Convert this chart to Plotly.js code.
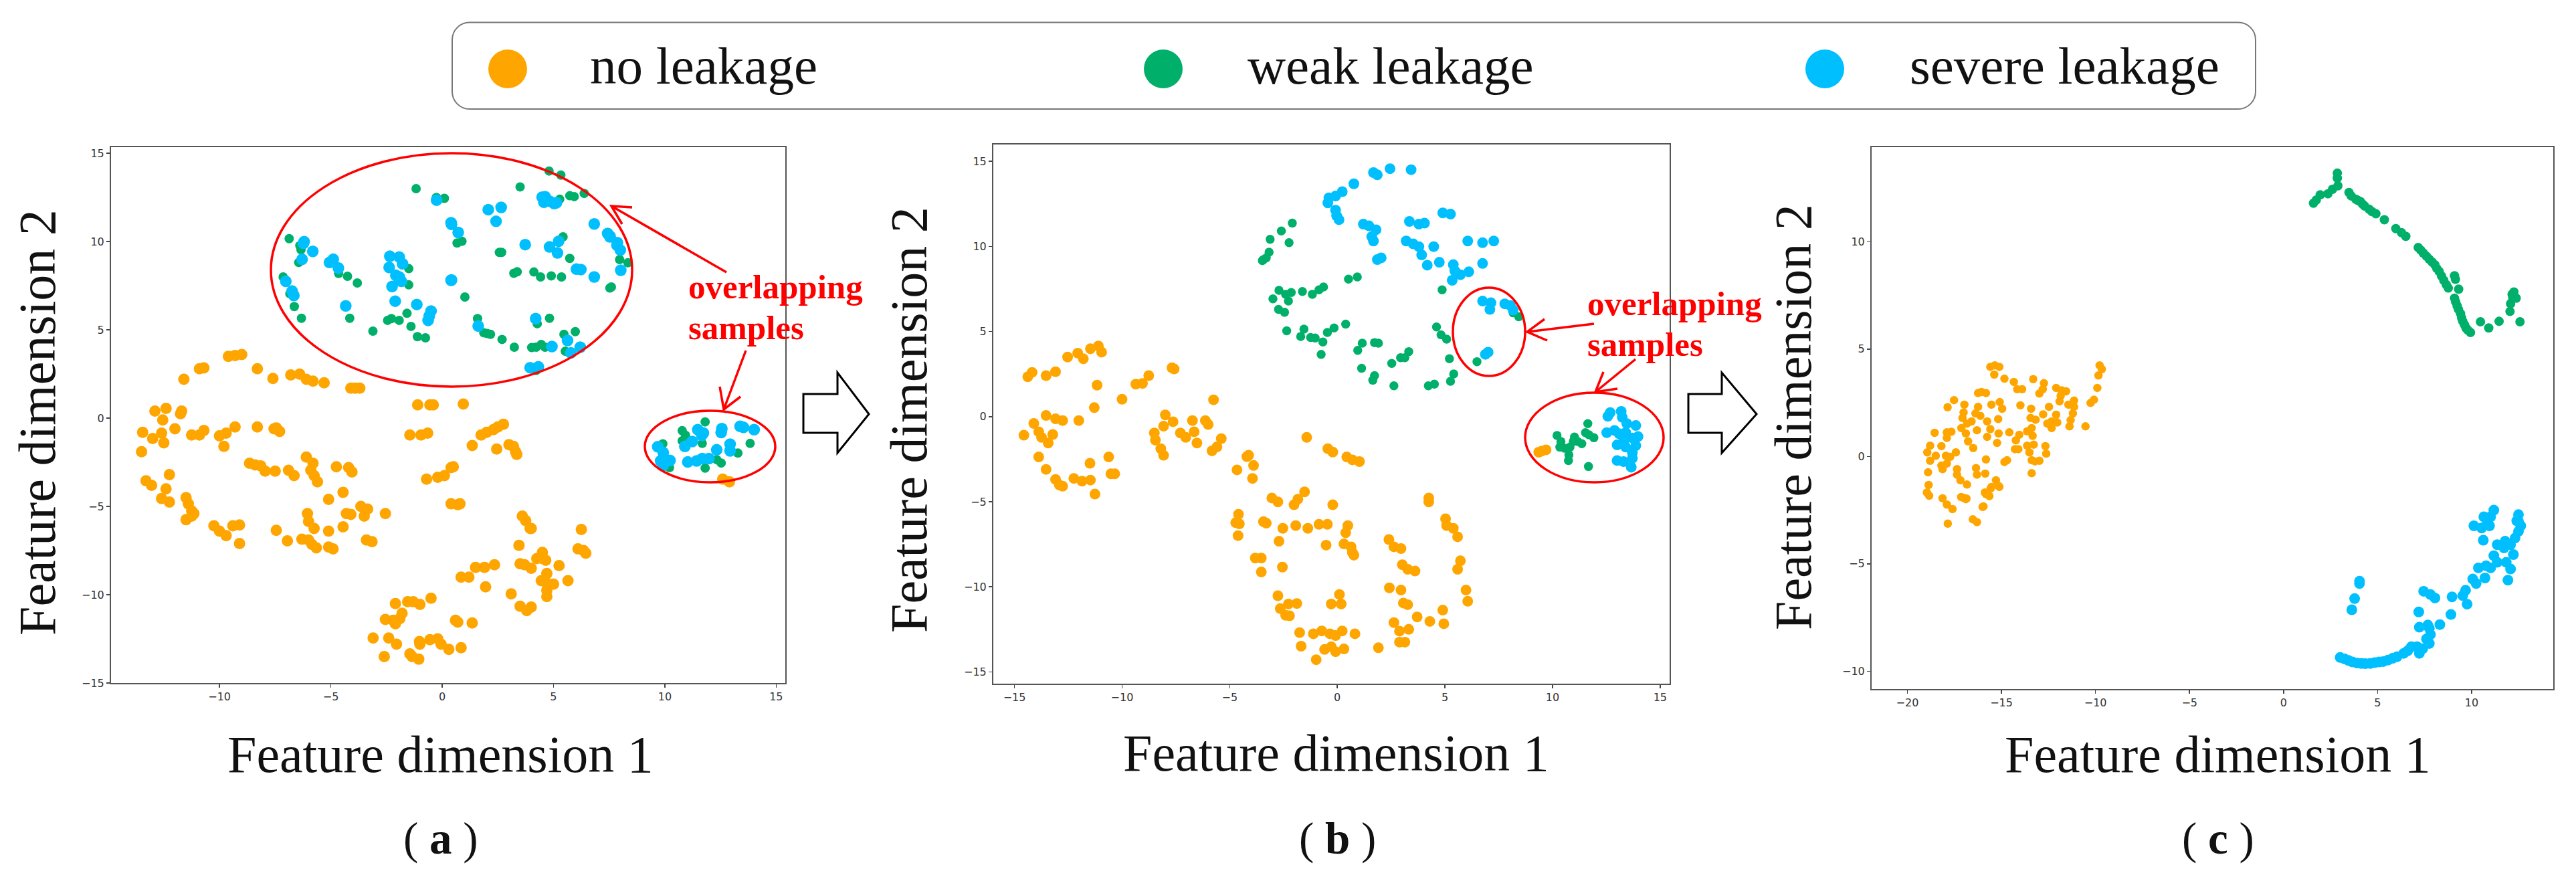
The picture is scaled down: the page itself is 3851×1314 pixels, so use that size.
<!DOCTYPE html>
<html>
<head>
<meta charset="utf-8">
<script src="https://cdn.plot.ly/plotly-3.0.1.min.js"></script>
<style>html,body{margin:0;padding:0;background:#fff}</style>
</head>
<body>
<div id="chart" style="width:3851px;height:1314px"></div>
<script>
// ---------- DATA: each point is [feature dimension 1, feature dimension 2] ----------
const legendLabels = ["no leakage", "weak leakage", "severe leakage"];
const panelLabels = ["a", "b", "c"];
const xTitle = "Feature dimension 1";
const yTitle = "Feature dimension 2";
const noteLines = ["overlapping", "samples"];

const aTicksX = [-10,-5,0,5,10,15];
const aTicksY = [-15,-10,-5,0,5,10,15];
const bTicksX = [-15,-10,-5,0,5,10,15];
const bTicksY = [-15,-10,-5,0,5,10,15];
const cTicksX = [-20,-15,-10,-5,0,5,10];
const cTicksY = [-10,-5,0,5,10];

const aNo = [[-11.6,2.2],[-10.9,2.8],[-10.7,2.85],[-9.6,3.5],[-9.3,3.55],[-9.0,3.6],[-8.3,2.8],[-7.6,2.25],[-6.8,2.45],[-6.4,2.5],[-6.1,2.2],[-5.8,2.1],[-5.3,2.0],[-4.1,1.7],[-3.9,1.7],[-3.7,1.7],
[-12.9,0.4],[-12.4,0.55],[-12.55,-0.1],[-11.7,0.4],[-11.75,0.25],[-13.45,-0.8],[-13.5,-1.9],[-13.0,-1.15],[-12.6,-0.85],[-12.5,-1.4],[-12.0,-0.6],[-11.25,-0.95],[-10.9,-0.95],[-10.7,-0.7],[-10,-1],[-9.7,-0.85],[-9.8,-1.6],[-9.3,-0.5],[-8.3,-0.5],[-7.55,-0.6],[-7.45,-0.55],[-7.3,-0.75],
[-8.65,-2.55],[-8.4,-2.65],[-8.15,-2.7],[-7.95,-3],[-7.5,-3],[-6.9,-2.95],[-6.65,-3.25],[-6.1,-2.2],[-5.8,-2.55],[-5.9,-2.95],[-5.75,-3.25],[-5.6,-3.6],[-4.75,-2.75],[-4.2,-2.8],[-4.05,-3.05],
[-13.3,-3.55],[-13.05,-3.8],[-12.25,-3.2],[-12.4,-4],[-12.6,-4.55],[-12.25,-4.75],[-11.5,-4.5],[-11.4,-4.85],[-11.25,-5.25],[-11.15,-5.4],[-11.5,-5.75],[-11.25,-5.55],
[-10.25,-6.1],[-10,-6.4],[-9.7,-6.65],[-9.4,-6.1],[-9.1,-6.05],[-9.1,-7.1],[-7.45,-6.35],[-6.95,-6.95],[-6.3,-6.85],[-6,-6.9],[-5.85,-7.15],[-5.65,-7.35],[-5.1,-7.3],[-4.9,-7.4],[-6.05,-5.4],[-6,-5.85],[-5.75,-6.25],[-5.1,-4.6],[-4.45,-4.2],[-5.1,-6.4],[-4.45,-6.15],[-4.3,-5.4],[-4.1,-5.45],[-3.65,-5],[-3.35,-5.15],[-3.5,-5.55],[-2.55,-5.4],[-3.4,-6.9],[-3.15,-7],
[-1.1,0.75],[-0.55,0.75],[-0.4,0.75],[0.95,0.8],[-1.45,-0.95],[-0.95,-0.95],[-0.65,-0.85],[1.75,-0.95],[2,-0.8],[2.3,-0.65],[2.5,-0.5],[2.75,-0.35],[1.35,-1.55],[2.45,-1.75],[3,-1.5],[3.2,-1.6],[3.3,-1.9],[3.35,-2.05],[-0.7,-3.45],[-0.2,-3.35],[0.1,-3.25],[0.4,-2.8],[0.5,-2.75],[0.4,-4.85],[0.7,-4.9],[0.8,-4.85],
[3.6,-5.55],[3.75,-5.8],[3.95,-6.25],[4,-6.25],[6.25,-6.3],[3.45,-7.2],[6.1,-7.4],[6.35,-7.5],[6.45,-7.65],[4.5,-7.6],[4.25,-7.95],[4.5,-7.95],[4.65,-8.05],[3.5,-8.25],[3.7,-8.3],[4,-8.5],[5.25,-8.35],[4.7,-8.8],[5.65,-9.2],[4.45,-9.2],[4.7,-9.35],[5,-9.4],[4.7,-9.75],[4.7,-10.1],[3.1,-9.95],[1.5,-8.45],[1.9,-8.45],[2.35,-8.3],[0.85,-9],[1.2,-9],[1.95,-9.55],[3.5,-10.65],[3.8,-10.9],[4,-10.7],
[-2.1,-10.5],[-1.55,-10.4],[-1.3,-10.4],[-1,-10.55],[-0.5,-10.2],[-2.55,-11.4],[-2.2,-11.45],[-1.9,-11.35],[-1.8,-11.05],[-2.1,-11.65],[0.6,-11.45],[0.7,-11.55],[1.35,-11.6],[-3.1,-12.45],[-2.4,-12.45],[-2.05,-12.8],[-0.55,-12.55],[-0.2,-12.5],[-0.05,-12.8],[-1,-12.8],[-1.02,-12.65],[0.3,-13.1],[0.85,-13],[-2.6,-13.5],[-1.45,-13.35],[-1.35,-13.5],[-1.05,-13.65],[12.6,-3.45],[12.9,-3.6]];

const aWeak = [[-1.17,13.0],[-0.26,12.5],[0.1,12.45],[3.5,13.1],[4.8,14.0],[5.33,13.77],[5.28,12.4],[5.73,12.6],[5.93,12.55],[6.38,12.73],[-6.87,10.17],[-6.39,9.77],[-6.34,9.54],[-6.44,8.82],[-4.65,8.2],[-4.25,8.04],[-3.81,7.66],[-7.14,8.0],[-6.84,7.05],[-6.64,6.32],[-6.32,5.66],[-4.15,5.66],[-3.11,4.93],[-2.45,5.54],[-2.28,5.64],[-1.93,5.54],[-1.58,5.94],[-1.4,5.2],[-1.11,4.62],[-0.75,4.55],[-1.5,8.47],[-1.5,7.55],[0.67,9.92],[0.89,10.02],[2.57,9.39],[2.67,9.39],[3.22,8.21],[3.37,8.29],[4.12,8.28],[4.42,8.0],[4.9,8.06],[5.36,8.0],[5.43,10.27],[5.73,9.05],[7.53,7.37],[7.6,7.43],[1.02,6.86],[1.59,5.64],[1.87,4.84],[2.02,4.8],[2.17,4.75],[2.69,4.46],[3.24,4.02],[4.02,4.0],[4.22,4.02],[4.45,4.17],[4.62,4.02],[4.27,5.35],[4.82,5.66],[5.47,4.75],[5.98,4.9],[5.53,3.79],[4.22,2.7],[7.97,8.98],[8.34,8.8],
[11.81,-0.21],[10.78,-0.71],[10.93,-0.97],[10.78,-1.28],[11.68,-1.43],[13.83,-1.43],[13.28,-1.98],[9.91,-1.45],[10.21,-2.8],[12.33,-2.35],[12.53,-2.54],[11.81,-2.83]];

const aSevere = [[-0.25,12.35],[2.07,11.81],[2.65,11.94],[2.42,11.15],[4.49,12.52],[4.62,12.55],[4.57,12.23],[4.82,12.29],[5.03,12.16],[5.13,12.2],[0.4,11.07],[0.42,10.98],[0.72,10.52],[-6.2,10.0],[-6.23,9.9],[-5.81,9.45],[-6.29,9.0],[-4.89,9.0],[-5.06,8.82],[-4.66,8.5],[-2.35,9.17],[-1.93,9.13],[-1.78,8.75],[-2.38,8.54],[-2.08,8.09],[-1.93,8.0],[-1.83,7.75],[-1.93,7.87],[-2.25,7.46],[-2.11,6.63],[-1.14,6.44],[-0.5,6.07],[-0.58,5.79],[-0.63,5.54],[0.4,7.81],[0.42,7.83],[-4.33,6.36],[-7.02,7.75],[-6.74,7.2],[-6.66,6.95],[3.73,9.83],[4.82,9.7],[5.23,10.02],[5.18,9.36],[6.03,8.44],[6.23,8.42],[6.83,11.0],[7.43,10.46],[7.53,10.27],[6.83,8.0],[1.62,5.22],[4.2,5.64],[4.93,4.06],[5.63,4.4],[6.2,4.02],[5.78,3.7],[3.95,2.86],[4.32,2.91],[7.87,9.94],[8.0,9.52],[7.85,9.8],[8.02,8.38],[7.54,10.3],
[11.48,-0.65],[11.73,-0.84],[11.66,-0.97],[12.56,-0.59],[12.53,-0.81],[13.38,-0.46],[13.53,-0.52],[14.01,-0.65],[11.23,-1.32],[10.9,-1.6],[9.68,-1.62],[9.93,-1.95],[9.81,-2.42],[10.23,-2.39],[9.93,-2.67],[12.33,-1.79],[12.93,-1.47],[12.93,-1.85],[11.03,-2.48],[11.43,-2.42],[11.68,-2.29],[11.98,-2.29]];

const bNo = [[-14.38,2.34],[-14.18,2.6],[-13.53,2.41],[-13.09,2.64],[-12.53,3.5],[-12.06,3.73],[-11.8,3.4],[-11.47,3.99],[-11.1,4.15],[-10.95,3.79],[-11.16,1.85],[-11.29,0.53],[-10,1.02],[-9.36,1.91],[-9.05,1.95],[-8.76,2.41],[-7.68,2.87],[-7.58,2.8],[-5.75,0.99],
[-14.56,-1.09],[-14.1,-0.4],[-13.87,-0.89],[-13.53,0.07],[-13.09,-0.13],[-12.76,-0.23],[-12.01,-0.23],[-13.22,-1.05],[-13.43,-1.55],[-13.74,-1.22],[-13.87,-2.37],[-13.53,-3.1],[-13.09,-3.69],[-12.91,-4.02],[-12.76,-4.09],[-12.24,-3.63],[-11.86,-3.79],[-11.47,-3.73],[-11.49,-2.74],[-11.26,-4.55],[-10.62,-2.37],[-10.52,-3.36],[-10.34,-3.36],
[-8.5,-0.96],[-8.45,-1.38],[-8.2,-1.88],[-8.07,-2.27],[-7.99,0.1],[-8.07,-0.56],[-7.63,-0.3],[-7.29,-0.96],[-7.04,-1.22],[-6.73,-0.23],[-6.65,-0.89],[-6.52,-1.55],[-6.13,-0.23],[-6.0,-0.46],[-5.82,-2.01],[-5.59,-1.78],[-5.39,-1.29],
[-1.42,-1.22],[-0.44,-1.88],[-0.21,-2.08],[0.44,-2.37],[0.7,-2.54],[1.03,-2.64],[-4.12,-2.27],[-4.2,-2.35],[-3.89,-2.87],[-4.66,-3.13],[-3.94,-3.63],
[-3.04,-4.78],[-2.76,-5.01],[-2.01,-5.18],[-1.83,-4.85],[-1.52,-4.42],[-0.21,-5.18],[4.25,-4.78],[4.25,-5.01],
[-4.59,-5.74],[-4.72,-6.23],[-4.55,-6.3],[-4.61,-6.99],[-3.43,-6.17],[-3.3,-6.26],[-2.53,-6.56],[-2.71,-7.32],[-1.93,-6.4],[-1.37,-6.56],[-0.85,-6.33],[-0.46,-6.33],[0.49,-6.4],[0.39,-6.82],[-0.52,-7.55],[0.31,-7.48],[0.64,-7.65],[0.7,-7.98],[0.77,-8.14],[-3.81,-8.31],[-3.53,-8.31],[-3.53,-9.13],[-2.55,-8.84],
[2.4,-7.22],[2.63,-7.65],[2.96,-7.75],[3.02,-8.7],[3.27,-8.97],[3.61,-9.07],[5.03,-6],[5.08,-6.4],[5.39,-6.56],[5.59,-7.06],[5.72,-8.47],[5.59,-8.97],[5.98,-10.19],[6.06,-10.85],
[2.42,-10.06],[2.96,-10.19],[3.07,-10.95],[3.27,-11.05],[3.71,-11.77],[4.3,-12.03],[4.9,-11.37],[4.95,-12.17],[2.63,-12.1],[2.89,-12.6],[3.32,-12.5],[2.89,-13.25],[3.14,-13.25],[1.91,-13.58],
[-2.76,-10.52],[-2.65,-11.28],[-2.4,-11.67],[-2.22,-11.7],[-2.27,-11.01],[-1.88,-10.98],[-1.75,-12.69],[-1.68,-13.49],[-1.11,-12.76],[-0.72,-12.59],[-0.34,-12.76],[-0.08,-12.86],[0.23,-12.59],[0.82,-12.76],[-0.98,-14.28],[-0.59,-13.68],[-0.28,-13.52],[-0.08,-13.81],[0.31,-13.65],[-0.28,-11.01],[0.1,-10.45],[0.18,-11.01],
[9.36,-2.09],[9.51,-2.02],[9.7,-1.95]];

const bWeak = [[-2.09,11.37],[-2.6,10.91],[-3.12,10.42],[-2.24,10.22],[-3.17,9.66],[-3.3,9.33],[-3.48,9.17],[-3.43,9.23],[-2.71,7.42],[-2.4,7.19],[-2.14,7.29],[-2.99,6.92],[-2.27,6.79],[-2.73,6.3],[-2.45,6.13],[-1.62,7.35],[-1.16,7.19],[-0.85,7.45],[-0.64,7.62],[-2.35,5.04],[-1.55,5.14],[-1.7,4.71],[-1.24,4.65],[-1.03,4.62],[-0.67,4.39],[-0.75,3.66],[-0.46,4.95],[-0.15,5.21],[0.39,5.44],[0.52,8.08],[0.93,8.21],[1.16,4.32],[0.95,3.89],[1.73,4.35],[1.91,4.32],[1.13,2.84],[1.73,2.41],[1.65,2.14],[2.63,1.81],[2.53,3.13],[2.94,3.46],[3.14,3.46],[3.32,3.82],[4.23,1.81],[4.51,1.91],[4.87,7.45],[4.61,5.27],[4.82,4.81],[5.08,4.55],[5.21,3.4],[5.41,2.51],[5.26,2.08],[6.49,3.23],[8.17,6.1],[8.43,5.87],
[11.64,-0.41],[10.21,-1.11],[10.39,-1.46],[10.34,-1.79],[10.55,-1.85],[10.81,-1.79],[11.02,-1.2],[10.96,-1.46],[11.17,-1.46],[11.36,-1.59],[11.53,-0.94],[11.69,-1.07],[11.92,-1.24],[10.76,-2.25],[10.74,-2.58],[11.67,-2.93]];

const bSevere = [[3.43,14.51],[2.45,14.57],[1.68,14.34],[1.86,14.21],[0.77,13.68],[0.23,13.22],[-0.08,12.96],[-0.39,12.86],[-0.44,12.56],[-0.08,12.13],[-0.03,11.8],[0.08,11.57],[1.21,11.31],[1.47,11.21],[1.8,10.98],[1.6,10.58],[1.68,10.32],[1.86,9.23],[2.04,9.33],[3.35,11.47],[3.79,11.31],[4.05,11.37],[4.9,11.97],[5.26,11.9],[3.2,10.32],[3.53,10.15],[3.79,9.99],[3.92,9.5],[4.18,8.9],[4.48,9.99],[4.74,9.07],[5.39,8.93],[5.46,8.57],[5.34,8.01],[5.72,8.34],[6.11,8.51],[6.06,10.32],[6.75,10.22],[7.27,10.32],[6.75,9.0],[6.75,6.79],[7.14,6.69],[7.09,6.3],[7.78,6.63],[8.04,6.53],[8.17,6.26],[7.01,3.79],[6.88,3.66],
[12.68,0.24],[12.57,0.02],[13.19,0.31],[13.24,-0.04],[12.52,-0.94],[12.88,-0.81],[13.09,-1.0],[13.45,-0.41],[13.87,-0.52],[13.4,-0.94],[13.97,-1.17],[13.71,-1.26],[13.0,-1.66],[13.3,-1.46],[13.87,-1.7],[13.4,-1.79],[13.71,-2.12],[13.71,-2.45],[13.0,-2.58],[13.3,-2.64],[13.66,-2.97]];

const cNo = [[-15.59,4.17],[-15.35,4.24],[-15.11,4.17],[-15.38,3.81],[-14.84,3.62],[-14.34,3.47],[-14.16,3.13],[-13.9,3.13],[-13.31,3.6],[-12.74,3.41],[-12.8,3.13],[-12.98,2.93],[-12.09,3.19],[-11.8,3.08],[-11.56,3.03],[-11.85,2.82],[-11.91,2.56],[-11.14,2.6],[-11.44,2.41],[-11.14,2.31],[-9.78,4.24],[-9.66,4.06],[-9.84,3.77],[-9.9,3.19],[-10.08,2.64],[-10.26,2.49],[-10.53,1.4],[-11.2,2.0],[-11.32,1.69],[-11.38,1.4],
[-16.24,2.95],[-16.06,3.0],[-15.82,2.95],[-17.52,2.62],[-17.86,2.29],[-16.97,2.41],[-17.01,2.05],[-17.07,1.79],[-16.24,2.31],[-16.38,2.0],[-16.12,1.89],[-15.76,1.63],[-15.53,2.41],[-15.09,2.53],[-14.96,2.22],[-15.17,1.74],[-13.99,2.38],[-13.42,2.22],[-13.45,1.79],[-13.18,1.71],[-12.47,2.31],[-12.78,1.96],[-12.09,1.94],[-12.33,1.63],[-12.56,1.53],[-12.03,1.58],[-12.33,1.32],
[-17.13,1.32],[-16.83,1.53],[-16.59,1.63],[-16.3,1.22],[-16.89,1.07],[-15.59,1.27],[-15.76,0.91],[-15.15,1.07],[-15.23,0.63],[-14.58,1.12],[-14.05,1.01],[-14.23,0.75],[-13.39,1.32],[-13.63,1.17],[-13.34,0.96],[-14.1,0.34],[-13.63,0.5],[-13.28,0.55],[-14.28,0.34],[-13.51,0.19],[-12.66,0.48],[-12.62,0.13],[-13.22,-0.23],[-13.39,-0.18],[-12.98,-0.2],[-13.39,-0.78],
[-18.55,1.1],[-17.9,1.12],[-17.66,1.15],[-17.9,0.86],[-18.19,0.48],[-18.79,0.5],[-18.94,0.19],[-18.49,0.03],[-17.95,0.03],[-17.42,0.19],[-17.72,-0.02],[-18.79,-0.2],[-18.19,-0.43],[-18.13,-0.59],[-17.9,-0.33],[-16.77,0.7],[-16.5,0.39],[-15.82,-0.14],[-14.84,-0.26],[-14.7,-0.18],[-18.9,-0.74],[-17.36,-0.59],[-17.36,-0.85],[-17.18,-1.11],[-16.83,-1.31],[-16.35,-0.54],[-16.3,-0.85],[-15.86,-0.8],[-15.29,-1.11],[-15.53,-1.42],[-15.11,-1.42],[-15.88,-1.68],[-15.64,-1.85],[-17.01,-1.93],[-16.89,-1.99],[-18.87,-1.33],[-18.96,-1.68],[-18.84,-1.83],[-18.13,-1.95],[-17.9,-2.24],[-17.6,-2.45],[-16,-2.35],
[-17.85,-3.13],[-16.52,-2.93],[-16.3,-3.06],[-17.14,-1.89],[-16.86,-1.96],[-15.95,-2.33],[-15.81,-1.76],[-15.58,-1.5],[-15.16,-1.37]];

const cWeak = [[1.59,11.79],[1.74,11.94],[1.95,12.18],[2.36,12.23],[2.6,12.44],[2.89,12.6],[2.86,12.96],[2.86,13.19],[3.48,12.29],[3.6,12.13],[3.84,11.98],[3.95,11.92],[4.08,11.87],[4.2,11.75],[4.31,11.66],[4.55,11.51],[4.7,11.4],[4.91,11.3],[5.36,11.02],[5.97,10.61],[6.27,10.42],[6.5,10.25],[7.16,9.73],[7.3,9.6],[7.43,9.47],[7.6,9.32],[7.75,9.18],[7.9,9.05],[8.05,8.92],[8.15,8.75],[8.28,8.61],[8.4,8.4],[8.52,8.2],[8.65,8.0],[8.76,7.84],[9.09,8.41],[9.14,8.25],[9.31,7.79],[9.09,7.37],[9.15,7.2],[9.23,7.01],[9.3,6.85],[9.41,6.65],[9.47,6.45],[9.53,6.29],[9.62,6.13],[9.7,5.98],[9.8,5.88],[9.94,5.77],[10.47,6.27],[10.91,5.98],[11.46,6.29],[12.57,6.27],[12.04,6.75],[12.07,7.11],[12.19,7.37],[12.37,7.37],[12.15,7.55],[12.25,7.66]];

const cSevere = [[11.18,-2.5],[10.65,-2.81],[11.01,-2.81],[10.83,-3.02],[10.12,-3.23],[10.53,-3.33],[10.95,-3.23],[10.62,-3.9],[12.49,-2.71],[12.49,-3.02],[12.4,-3.0],[12.61,-3.23],[12.49,-3.49],[12.31,-3.8],[11.36,-4.11],[11.78,-3.95],[12.07,-4.11],[11.72,-4.26],[12.22,-4.57],[11.18,-4.62],[11.36,-4.93],[11.84,-4.93],[12.07,-5.24],[11.93,-5.76],[10.36,-5.19],[10.77,-5.09],[11.01,-5.19],[10.71,-5.66],[10.06,-5.71],[10.24,-5.92],[9.68,-6.23],[9.53,-6.48],[9.76,-6.88],[8.96,-6.54],[8.9,-7.36],[7.45,-6.28],[7.81,-6.43],[8.05,-6.59],[7.19,-7.24],[7.22,-7.95],[7.67,-7.85],[8.31,-7.83],[7.81,-8.29],[7.75,-8.71],[7.75,-8.0],[7.6,-8.5],[7.4,-8.95],[7.1,-8.86],[6.8,-8.86],[7.22,-9.17],[6.6,-9.05],[6.39,-9.17],[6.03,-9.33],[5.8,-9.4],[5.56,-9.48],[5.3,-9.55],[5.08,-9.57],[4.85,-9.6],[4.61,-9.64],[4.35,-9.65],[4.14,-9.64],[3.9,-9.62],[3.66,-9.57],[3.45,-9.5],[3.25,-9.43],[3.01,-9.36],[4.04,-5.92],[4.04,-5.81],[3.78,-6.62],[3.63,-7.14]];

// ---------- STYLE / LAYOUT ----------
const W = 3851, H = 1314;
const fx = p => p / W, fy = p => 1 - p / H;
const ORANGE = "#FFA500", GREEN = "#00B06A", BLUE = "#00BFFF", RED = "#FF0000";
const SERIF = "'Liberation Serif', serif";

const panels = [
  {key:"", box:[166,220,1174,1021], xr:[-14.87,15.41], yr:[-15.0,15.35], tx:aTicksX, ty:aTicksY, sets:[aNo,aWeak,aSevere], sz:[17,14,17.5]},
  {key:"2", box:[1485,216,2496,1022], xr:[-15.98,15.44], yr:[-15.69,15.99], tx:bTicksX, ty:bTicksY, sets:[bNo,bWeak,bSevere], sz:[16,13.5,16]},
  {key:"3", box:[2798,220,3817,1030], xr:[-21.9,14.34], yr:[-10.83,14.4], tx:cTicksX, ty:cTicksY, sets:[cNo,cWeak,cSevere], sz:[12.5,14,16]}
];
const colors = [ORANGE, GREEN, BLUE];

const traces = [];
const layout = {
  width: W, height: H, margin:{l:0,r:0,t:0,b:0,pad:0}, autosize:false,
  paper_bgcolor:"#fff", plot_bgcolor:"#fff", showlegend:false, shapes:[], annotations:[]
};

panels.forEach(p => {
  p.sets.forEach((pts,i) => traces.push({
    type:"scatter", mode:"markers", name:legendLabels[i],
    x:pts.map(d=>d[0]), y:pts.map(d=>d[1]),
    xaxis:"x"+p.key, yaxis:"y"+p.key, cliponaxis:false,
    marker:{color:colors[i], size:p.sz[i], line:{width:0}}
  }));
  const common = {
    showgrid:false, zeroline:false, showline:true, mirror:true, linecolor:"#555", linewidth:2,
    ticks:"outside", ticklen:5, tickwidth:1.5, tickcolor:"#444", tickmode:"array",
    tickfont:{family:"'DejaVu Sans', sans-serif", size:16, color:"#333"}
  };
  layout["xaxis"+p.key] = Object.assign({}, common, {
    domain:[fx(p.box[0]), fx(p.box[2])], range:p.xr, tickvals:p.tx, ticktext:p.tx.map(v=>String(v).replace("-","\u2212")),
    anchor:"y"+p.key});
  layout["yaxis"+p.key] = Object.assign({}, common, {
    domain:[fy(p.box[3]), fy(p.box[1])], range:p.yr, tickvals:p.ty, ticktext:p.ty.map(v=>String(v).replace("-","\u2212")),
    anchor:"x"+p.key});
});

function text(t, x, y, size, opts){
  layout.annotations.push(Object.assign({
    text:t, xref:"paper", yref:"paper", x:fx(x), y:fy(y), showarrow:false,
    xanchor:"center", yanchor:"middle", borderpad:0,
    font:{family:SERIF, size:size, color:"#111"}
  }, opts||{}));
}
function shapePath(d, stroke, width, fill){
  layout.shapes.push({type:"path", xref:"paper", yref:"paper", path:d,
    line:{color:stroke, width:width}, fillcolor:fill||"rgba(0,0,0,0)", layer:"above"});
}
const P = (x,y) => fx(x)+" "+fy(y);
function ellipse(x0,y0,x1,y1){
  layout.shapes.push({type:"circle", xref:"paper", yref:"paper", x0:fx(x0), x1:fx(x1), y0:fy(y0), y1:fy(y1),
    line:{color:RED, width:3.5}, fillcolor:"rgba(0,0,0,0)", layer:"above"});
}
function arrow(sx,sy,tx,ty,ax,ay,bx,by){
  shapePath("M"+P(sx,sy)+" L"+P(tx,ty)+" M"+P(ax,ay)+" L"+P(tx,ty)+" L"+P(bx,by), RED, 3.5);
}
function blockArrow(l,b,t){
  shapePath("M"+P(l,589)+" L"+P(b,589)+" L"+P(b,557)+" L"+P(t,619)+" L"+P(b,677)+" L"+P(b,647)+" L"+P(l,647)+" Z", "#000", 3, "#fff");
}

// legend box: rounded rectangle
(function(){
  const x0=676,x1=3372,y0=33.5,y1=163,r=26,k=0.45*r;
  const d = "M"+P(x0+r,y0)+" L"+P(x1-r,y0)+" C"+P(x1-k,y0)+" "+P(x1,y0+k)+" "+P(x1,y0+r)+
    " L"+P(x1,y1-r)+" C"+P(x1,y1-k)+" "+P(x1-k,y1)+" "+P(x1-r,y1)+
    " L"+P(x0+r,y1)+" C"+P(x0+k,y1)+" "+P(x0,y1-k)+" "+P(x0,y1-r)+
    " L"+P(x0,y0+r)+" C"+P(x0,y0+k)+" "+P(x0+k,y0)+" "+P(x0+r,y0)+" Z";
  shapePath(d, "#777", 2);
})();
[[759,ORANGE],[1739,GREEN],[2728,BLUE]].forEach(([cx,c]) => {
  layout.shapes.push({type:"circle", xref:"paper", yref:"paper",
    x0:fx(cx-29), x1:fx(cx+29), y0:fy(103+29), y1:fy(103-29), line:{width:0}, fillcolor:c, layer:"above"});
});
[881,1864,2854].forEach((x,i) => text(legendLabels[i], x, 99, 79, {xanchor:"left"}));

// axis titles and panel labels
[[658,1127],[1997,1125],[3315,1127]].forEach(([x,y]) => text(xTitle, x, y, 78));
[[55,632],[1358,628],[2680,624]].forEach(([x,y]) => text(yTitle, x, y, 78, {textangle:-90}));
[659,1999,3316].forEach((x,i) => text("( <b>"+panelLabels[i]+"</b> )", x, 1253, 67));

// overlap callouts
[[1028,429,490],[2372,454,515]].forEach(([x,y1,y2]) => {
  const f = {family:SERIF, size:51, color:RED};
  text("<b>"+noteLines[0]+"</b>", x, y1, 51, {xanchor:"left", font:f});
  text("<b>"+noteLines[1]+"</b>", x, y2, 51, {xanchor:"left", font:f});
});
ellipse(405,229,945,578);
ellipse(964,614,1159,721);
ellipse(2172,430,2280,562);
ellipse(2280,587,2487,721);
arrow(1086,407,914,308,945,310,930,335);
arrow(1115,524,1082,612,1076,578,1107,593);
arrow(2383,484,2283,496,2309,477,2313,509);
arrow(2445,537,2385,586,2397,556,2418,581);
blockArrow(1201,1252,1299);
blockArrow(2524,2574,2626);

Plotly.newPlot("chart", traces, layout, {displayModeBar:false, staticPlot:true});
</script>
</body>
</html>
